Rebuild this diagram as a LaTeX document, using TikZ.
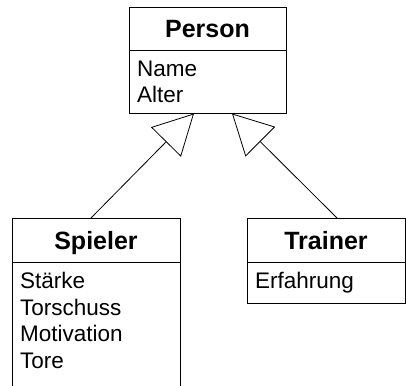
\documentclass[tikz,border=0pt]{standalone}
\usepackage{fontspec}
\setmainfont{Liberation Sans}
\usetikzlibrary{arrows.meta,positioning,calc}
\tikzset{
  classhead/.style={rectangle,draw,line width=0.8pt,outer sep=0pt,
    font=\fontsize{25}{30}\selectfont\bfseries,text height=18pt,text depth=0pt,
    minimum height=43pt},
  classbody/.style={rectangle,draw,line width=0.8pt,outer sep=0pt},
  attrs/.style={anchor=north west,align=left,inner xsep=8pt,inner ysep=10pt,
    font=\fontsize{22.5}{26.5}\selectfont},
  generalization/.style={-{Triangle[open,length=40pt,width=42pt]},line width=0.8pt}
}
\begin{document}
\begin{tikzpicture}[x=1pt,y=1pt]
  \useasboundingbox (0,0) rectangle (406,-385);
  \node[classhead,minimum width=157pt] (person) at (207.5,-29) {Person};
  \node[classbody,minimum width=157pt,minimum height=63pt,below=0pt of person] (personbody) {};
  \node[attrs] (personattr) at (personbody.north west) {Name\\Alter};
  \node[classhead,minimum width=168pt,minimum height=44pt] (spieler) at (96,-240) {Spieler};
  \node[classbody,minimum width=168pt,minimum height=133pt,below=0pt of spieler] (spielerbody) {};
  \node[attrs] (spielerattr) at (spielerbody.north west) {St\"arke\\Torschuss\\Motivation\\Tore};
  \node[classhead,minimum width=158pt,minimum height=44pt] (trainer) at (326,-240) {Trainer};
  \node[classbody,minimum width=158pt,minimum height=41pt,below=0pt of trainer] (trainerbody) {};
  \node[attrs] (trainerattr) at (trainerbody.north west) {Erfahrung};
  \draw[generalization] ($(spieler.north)+(-5,0)$) -- ($(personbody.south)+(-13.5,0)$);
  \draw[generalization] ($(trainer.north)+(11,0)$) -- ($(personbody.south)+(24.5,0)$);
\end{tikzpicture}
\end{document}
